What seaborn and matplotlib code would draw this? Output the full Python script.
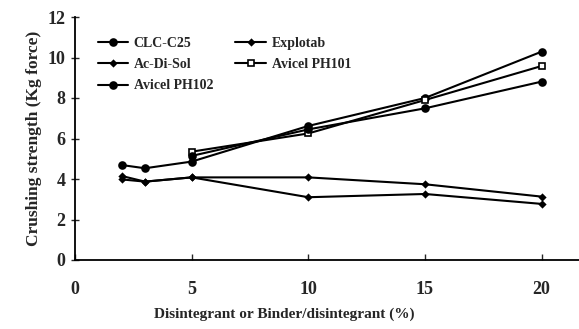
import matplotlib
matplotlib.use("Agg")
import matplotlib.pyplot as plt
import seaborn as sns
import pandas as pd

# Crushing strength (Kg force) versus disintegrant level (%)
series_names = ["CLC-C25", "Explotab", "Ac-Di-Sol", "Avicel PH101", "Avicel PH102"]

clc_x = [2, 3, 5, 10, 15, 20]
clc_y = [4.69, 4.53, 4.86, 6.62, 8.0, 10.29]

explotab_x = [2, 3, 5, 10, 15, 20]
explotab_y = [3.98, 3.87, 4.08, 4.08, 3.74, 3.13]

acdisol_x = [2, 3, 5, 10, 15, 20]
acdisol_y = [4.15, 3.87, 4.08, 3.10, 3.26, 2.77]

ph101_x = [5, 10, 15, 20]
ph101_y = [5.35, 6.25, 7.90, 9.58]

ph102_x = [5, 10, 15, 20]
ph102_y = [5.14, 6.45, 7.49, 8.81]

x_ticks = [0, 5, 10, 15, 20]
y_ticks = [0, 2, 4, 6, 8, 10, 12]

frames = []
for name, xs, ys in [
    ("CLC-C25", clc_x, clc_y),
    ("Explotab", explotab_x, explotab_y),
    ("Ac-Di-Sol", acdisol_x, acdisol_y),
    ("Avicel PH101", ph101_x, ph101_y),
    ("Avicel PH102", ph102_x, ph102_y),
]:
    frames.append(pd.DataFrame({"series": name, "pct": xs, "strength": ys}))
df = pd.concat(frames, ignore_index=True)

sns.set_style("ticks")
plt.rcParams["font.family"] = ["Liberation Serif", "DejaVu Serif"]
plt.rcParams["font.weight"] = "bold"

marker_style = {
    "CLC-C25": dict(marker="o", markersize=5, markerfacecolor="black"),
    "Explotab": dict(marker="D", markersize=3, markerfacecolor="black"),
    "Ac-Di-Sol": dict(marker="D", markersize=3, markerfacecolor="black"),
    "Avicel PH101": dict(marker="s", markersize=5, markerfacecolor="white"),
    "Avicel PH102": dict(marker="o", markersize=5, markerfacecolor="black"),
}

fig = plt.figure(figsize=(5.79, 3.29), dpi=100)
ax = fig.add_axes([75 / 579, 69 / 329, 504 / 579, 243 / 329])

for name in series_names:
    sub = df[df["series"] == name]
    sns.lineplot(data=sub, x="pct", y="strength", ax=ax, color="black",
                 linewidth=1.5, markeredgecolor="black", markeredgewidth=1.2,
                 label=name, **marker_style[name])

ax.set_xlim(0, 21.6)
ax.set_ylim(0, 12)
ax.set_xticks(x_ticks)
ax.set_yticks(y_ticks)
ax.tick_params(axis="y", direction="inout", length=6, width=1, pad=4, labelsize=13)
ax.tick_params(axis="x", direction="in", length=4, width=1, pad=15, labelsize=13)
for lbl in ax.get_xticklabels() + ax.get_yticklabels():
    lbl.set_fontweight("bold")
for side in ["top", "right"]:
    ax.spines[side].set_visible(False)
for side in ["left", "bottom"]:
    ax.spines[side].set_linewidth(1.3)
    ax.spines[side].set_color("black")

ax.set_xlabel("Disintegrant or Binder/disintegrant (%)", fontsize=11,
              fontweight="bold", labelpad=6)
ax.xaxis.set_label_coords(0.415, -0.195)
ax.set_ylabel("Crushing strength (Kg force)", fontsize=12.5,
              fontweight="bold", labelpad=4)

# legend laid out row by row: two entries per row
handles, labels = ax.get_legend_handles_labels()
lookup = dict(zip(labels, handles))
col_order = ["CLC-C25", "Ac-Di-Sol", "Avicel PH102", "Explotab", "Avicel PH101"]
leg = ax.legend([lookup[n] for n in col_order], col_order, ncol=2,
                loc="upper left", bbox_to_anchor=(0.02, 0.97),
                frameon=False, fontsize=10, handlelength=2.2,
                handletextpad=0.4, columnspacing=1.6, labelspacing=0.6)
for t in leg.get_texts():
    t.set_fontweight("bold")

fig.savefig("out.png", dpi=100)
